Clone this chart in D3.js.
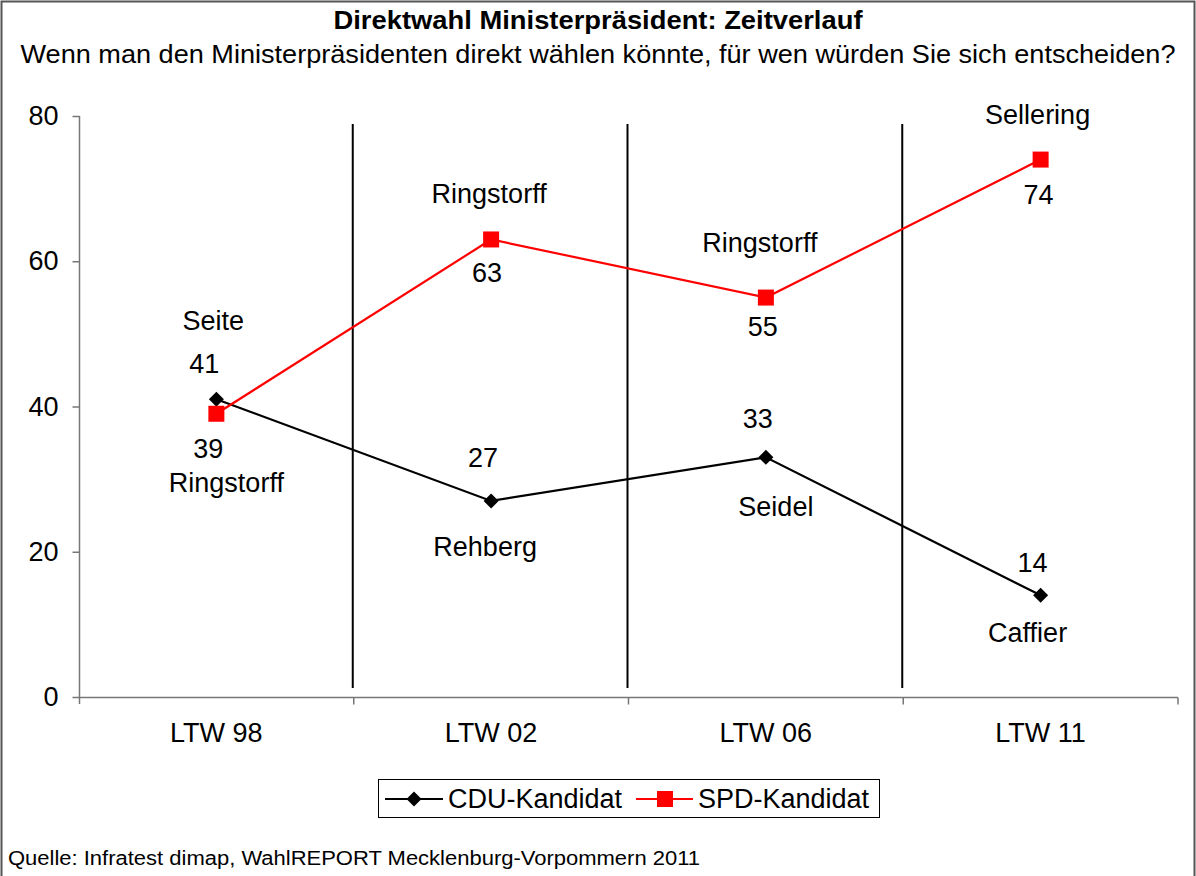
<!DOCTYPE html>
<html>
<head>
<meta charset="utf-8">
<script src="https://cdn.jsdelivr.net/npm/d3@7/dist/d3.min.js"></script>
<style>
  html, body { margin: 0; padding: 0; background: #fff; }
  svg { display: block; }
  text { font-family: "Liberation Sans", Arial, sans-serif; fill: #000; }
</style>
</head>
<body>
<svg id="chart" width="1196" height="876"></svg>
<script>
// Survey waves (Landtagswahlen)
const categories = ["LTW 98", "LTW 02", "LTW 06", "LTW 11"];
// Direct-vote preference for minister-president, in percent
const cduValues = [41, 27, 33, 14];
const spdValues = [39, 63, 55, 74];
// Candidate names per wave
const cduNames = ["Seite", "Rehberg", "Seidel", "Caffier"];
const spdNames = ["Ringstorff", "Ringstorff", "Ringstorff", "Sellering"];
const yTicks = [0, 20, 40, 60, 80];

const titleText = "Direktwahl Ministerpräsident: Zeitverlauf";
const subtitleText = "Wenn man den Ministerpräsidenten direkt wählen könnte, für wen würden Sie sich entscheiden?";
const sourceText = "Quelle: Infratest dimap, WahlREPORT Mecklenburg-Vorpommern 2011";

const W = 1196, H = 876;
const FS = 27;
const svg = d3.select("#chart");

// Outer frame (top, left, right)
svg.append("path")
  .attr("d", `M1.5,${H} V1.5 H1194.5 V${H}`)
  .attr("fill", "none").attr("stroke", "#555").attr("stroke-width", 2);

// Title block
svg.append("text").attr("x", 598).attr("y", 29)
  .attr("text-anchor", "middle").attr("font-weight", "bold").attr("font-size", 25)
  .attr("textLength", 529).attr("lengthAdjust", "spacingAndGlyphs")
  .text(titleText);
svg.append("text").attr("x", 598).attr("y", 63)
  .attr("text-anchor", "middle").attr("font-size", 25)
  .attr("textLength", 1155).attr("lengthAdjust", "spacingAndGlyphs")
  .text(subtitleText);

// Scales
const x = d3.scaleBand().domain(categories).range([79, 1178]).paddingInner(0).paddingOuter(0);
const y = d3.scaleLinear().domain([0, 80]).range([697, 116]);
const cx = c => x(c) + x.bandwidth() / 2;

// Separators between the waves
const bounds = categories.map(c => x(c)).concat([x.range()[1]]);
svg.append("g").selectAll("line").data(bounds.slice(1, -1)).join("line")
  .attr("x1", d => d - 1).attr("x2", d => d - 1)
  .attr("y1", 124).attr("y2", 688)
  .attr("stroke", "#000").attr("stroke-width", 2);

// Y axis
const yAxis = svg.append("g").attr("transform", "translate(79.5,0)")
  .call(d3.axisLeft(y).tickValues(yTicks).tickSize(7).tickPadding(14));
yAxis.select(".domain").attr("stroke", "#777").attr("stroke-width", 1.5)
  .attr("d", `M0,${y(80)}V${y(0) + 7}`);
yAxis.selectAll(".tick line").attr("stroke", "#777").attr("stroke-width", 1.5);
yAxis.selectAll(".tick text").attr("font-size", FS)
  .attr("font-family", "Liberation Sans, Arial, sans-serif").attr("fill", "#000");

// X axis: category labels centred, ticks at wave boundaries
const xAxis = svg.append("g").attr("transform", `translate(0,${y(0) + 0.5})`)
  .call(d3.axisBottom(x).tickSize(0).tickPadding(25));
xAxis.select(".domain").attr("stroke", "#777").attr("stroke-width", 1.5)
  .attr("d", `M${x.range()[0]},0H${x.range()[1]}`);
xAxis.selectAll(".tick text").attr("font-size", FS)
  .attr("font-family", "Liberation Sans, Arial, sans-serif").attr("fill", "#000");
xAxis.selectAll("line.bound").data(bounds.slice(1)).join("line").attr("class", "bound")
  .attr("x1", d => d).attr("x2", d => d).attr("y1", 0).attr("y2", 7)
  .attr("stroke", "#777").attr("stroke-width", 1.5);

const line = d3.line().x(d => cx(d.c)).y(d => y(d.v));
const cduData = categories.map((c, i) => ({ c, v: cduValues[i], name: cduNames[i] }));
const spdData = categories.map((c, i) => ({ c, v: spdValues[i], name: spdNames[i] }));

// CDU series (black, diamonds)
svg.append("path").datum(cduData).attr("d", line)
  .attr("fill", "none").attr("stroke", "#000").attr("stroke-width", 2.2);
// SPD series (red, squares)
svg.append("path").datum(spdData).attr("d", line)
  .attr("fill", "none").attr("stroke", "#ff0000").attr("stroke-width", 2.2);

const diamond = (g) => g.append("path").attr("d", "M0,-7.5L7.5,0L0,7.5L-7.5,0Z").attr("fill", "#000");
svg.append("g").selectAll("g").data(cduData).join("g")
  .attr("transform", d => `translate(${cx(d.c)},${y(d.v)})`)
  .call(diamond);
svg.append("g").selectAll("rect").data(spdData).join("rect")
  .attr("x", d => cx(d.c) - 8).attr("y", d => y(d.v) - 8)
  .attr("width", 16).attr("height", 16).attr("fill", "#ff0000");

// Value and candidate labels (offsets in px from the point to the label centre)
const cduLabelLayout = [
  { val: [-12, -36], name: [-3, -79] },
  { val: [-8, -43], name: [-6, 46] },
  { val: [-8, -39], name: [10, 49] },
  { val: [-8, -33], name: [-13, 37] }
];
const spdLabelLayout = [
  { val: [-8, 35], name: [10, 69] },
  { val: [-4, 33], name: [-2, -46] },
  { val: [-3, 29], name: [-6, -55] },
  { val: [-2, 35], name: [-3, -45] }
];
function labels(data, layout) {
  const g = svg.append("g").attr("font-size", FS).attr("text-anchor", "middle");
  data.forEach((d, i) => {
    const px = cx(d.c), py = y(d.v), L = layout[i];
    g.append("text").attr("x", px + L.val[0]).attr("y", py + L.val[1])
      .attr("dy", "0.35em").text(d.v);
    g.append("text").attr("x", px + L.name[0]).attr("y", py + L.name[1])
      .attr("dy", "0.35em").text(d.name);
  });
}
labels(cduData, cduLabelLayout);
labels(spdData, spdLabelLayout);

// Legend
const lg = svg.append("g");
lg.append("rect").attr("x", 378.5).attr("y", 779.5).attr("width", 501).attr("height", 38)
  .attr("fill", "#fff").attr("stroke", "#000").attr("stroke-width", 1);
const ly = 799;
lg.append("line").attr("x1", 385).attr("x2", 443).attr("y1", ly).attr("y2", ly)
  .attr("stroke", "#000").attr("stroke-width", 2.2);
lg.append("g").attr("transform", `translate(414,${ly})`).call(diamond);
lg.append("text").attr("x", 448).attr("y", ly).attr("dy", "0.35em").attr("font-size", FS)
  .text("CDU-Kandidat");
lg.append("line").attr("x1", 636).attr("x2", 693).attr("y1", ly).attr("y2", ly)
  .attr("stroke", "#ff0000").attr("stroke-width", 2.2);
lg.append("rect").attr("x", 657).attr("y", ly - 8).attr("width", 16).attr("height", 16)
  .attr("fill", "#ff0000");
lg.append("text").attr("x", 698).attr("y", ly).attr("dy", "0.35em").attr("font-size", FS)
  .text("SPD-Kandidat");

// Source note
svg.append("text").attr("x", 8).attr("y", 865).attr("font-size", 20)
  .attr("textLength", 692).attr("lengthAdjust", "spacingAndGlyphs")
  .text(sourceText);
</script>
</body>
</html>
